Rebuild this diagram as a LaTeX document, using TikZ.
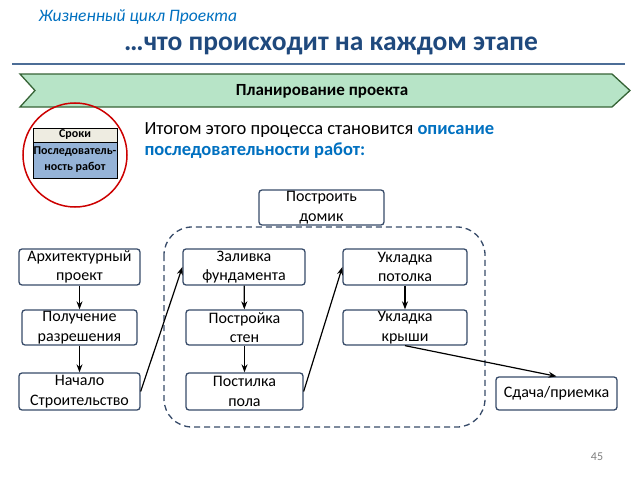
\documentclass[tikz,border=0pt]{standalone}
\usepackage{fontspec}
\setmainfont{Carlito}
\usetikzlibrary{arrows.meta}
\definecolor{ttl}{RGB}{0,112,192}
\definecolor{dk}{RGB}{31,73,125}
\definecolor{bx}{RGB}{55,75,105}
\definecolor{grn}{RGB}{183,228,199}
\definecolor{beige}{RGB}{238,236,225}
\definecolor{sblue}{RGB}{149,179,215}
\tikzset{
 box/.style={draw=bx,line width=1.3pt,rounded corners=3pt,fill=white,align=center,font=\fontsize{16}{19.5}\selectfont,inner sep=1pt},
 arr/.style={-{Stealth[length=8pt,width=6pt]},line width=1.2pt,black}
}
\begin{document}
\begin{tikzpicture}[x=1pt,y=-1pt]
\useasboundingbox (0,0) rectangle (638,479);
\node[anchor=west,text=ttl,font=\itshape\fontsize{17.5}{19}\selectfont] (t1) at (35,17) {Жизненный цикл Проекта};
\node[text=dk,font=\bfseries\fontsize{27.5}{30}\selectfont] (t2) at (331,46) {…что происходит на каждом этапе};
\draw[dk!80,line width=1.3pt] (12,64) -- (625,64);
\draw[fill=grn,draw=gray!70!green!60!black,line width=1.3pt] (20,74) -- (612,74) -- (630,90.5) -- (612,107) -- (20,107) -- (35,90.5) -- cycle;
\node[font=\bfseries\fontsize{17}{18}\selectfont] (ban) at (322,91) {Планирование проекта};
\draw[red!80!black,line width=1.5pt] (75,155) circle (52);
\draw[fill=beige,draw=black] (33,128) rectangle (117,142);
\draw[fill=sblue,draw=black] (33,142) rectangle (117,178);
\node[font=\bfseries\fontsize{12}{13}\selectfont] (s1) at (75,135) {Сроки};
\node[font=\bfseries\fontsize{12}{16}\selectfont,align=center] (s2) at (75,160) {Последователь-\\ность работ};
\node[anchor=west,font=\fontsize{18.5}{21}\selectfont,align=left] (it) at (141,141) {Итогом этого процесса становится {\bfseries\color{ttl}описание}\\{\bfseries\color{ttl}последовательности работ:}};
\draw[bx,line width=1.3pt,dash pattern=on 6pt off 4pt,rounded corners=28pt] (164,227) rectangle (485,427);
\node[box,minimum width=125,minimum height=35] (b0) at (321.5,207.5) {Построить\\домик};
\node[box,minimum width=121,minimum height=36] (a1) at (79.5,267) {Архитектурный\\проект};
\node[box,minimum width=115,minimum height=35] (a2) at (79.5,327.5) {Получение\\разрешения};
\node[box,minimum width=121,minimum height=37] (a3) at (79.5,391.5) {Начало\\Строительство};
\node[box,minimum width=122,minimum height=36] (c1) at (244,267) {Заливка\\фундамента};
\node[box,minimum width=117,minimum height=35] (c2) at (244.5,327.5) {Постройка\\стен};
\node[box,minimum width=117,minimum height=37] (c3) at (244.5,391.5) {Постилка\\пола};
\node[box,minimum width=124,minimum height=36] (d1) at (405,267) {Укладка\\потолка};
\node[box,minimum width=124,minimum height=35] (d2) at (405,327.5) {Укладка\\крыши};
\node[box,minimum width=121,minimum height=33] (e) at (556.5,393.5) {Сдача/приемка};
\draw[arr] (a1) -- (a2);
\draw[arr] (a2) -- (a3);
\draw[arr] (c1) -- (c2);
\draw[arr] (c2) -- (c3);
\draw[arr] (d1) -- (d2);
\draw[arr] (a3.east) -- (c1.west);
\draw[arr] (c3.east) -- (d1.west);
\draw[arr] (d2.south) -- (e.north);
\node[text=gray,font=\fontsize{12}{13}\selectfont] (pg) at (597,457) {45};
\end{tikzpicture}
\end{document}
